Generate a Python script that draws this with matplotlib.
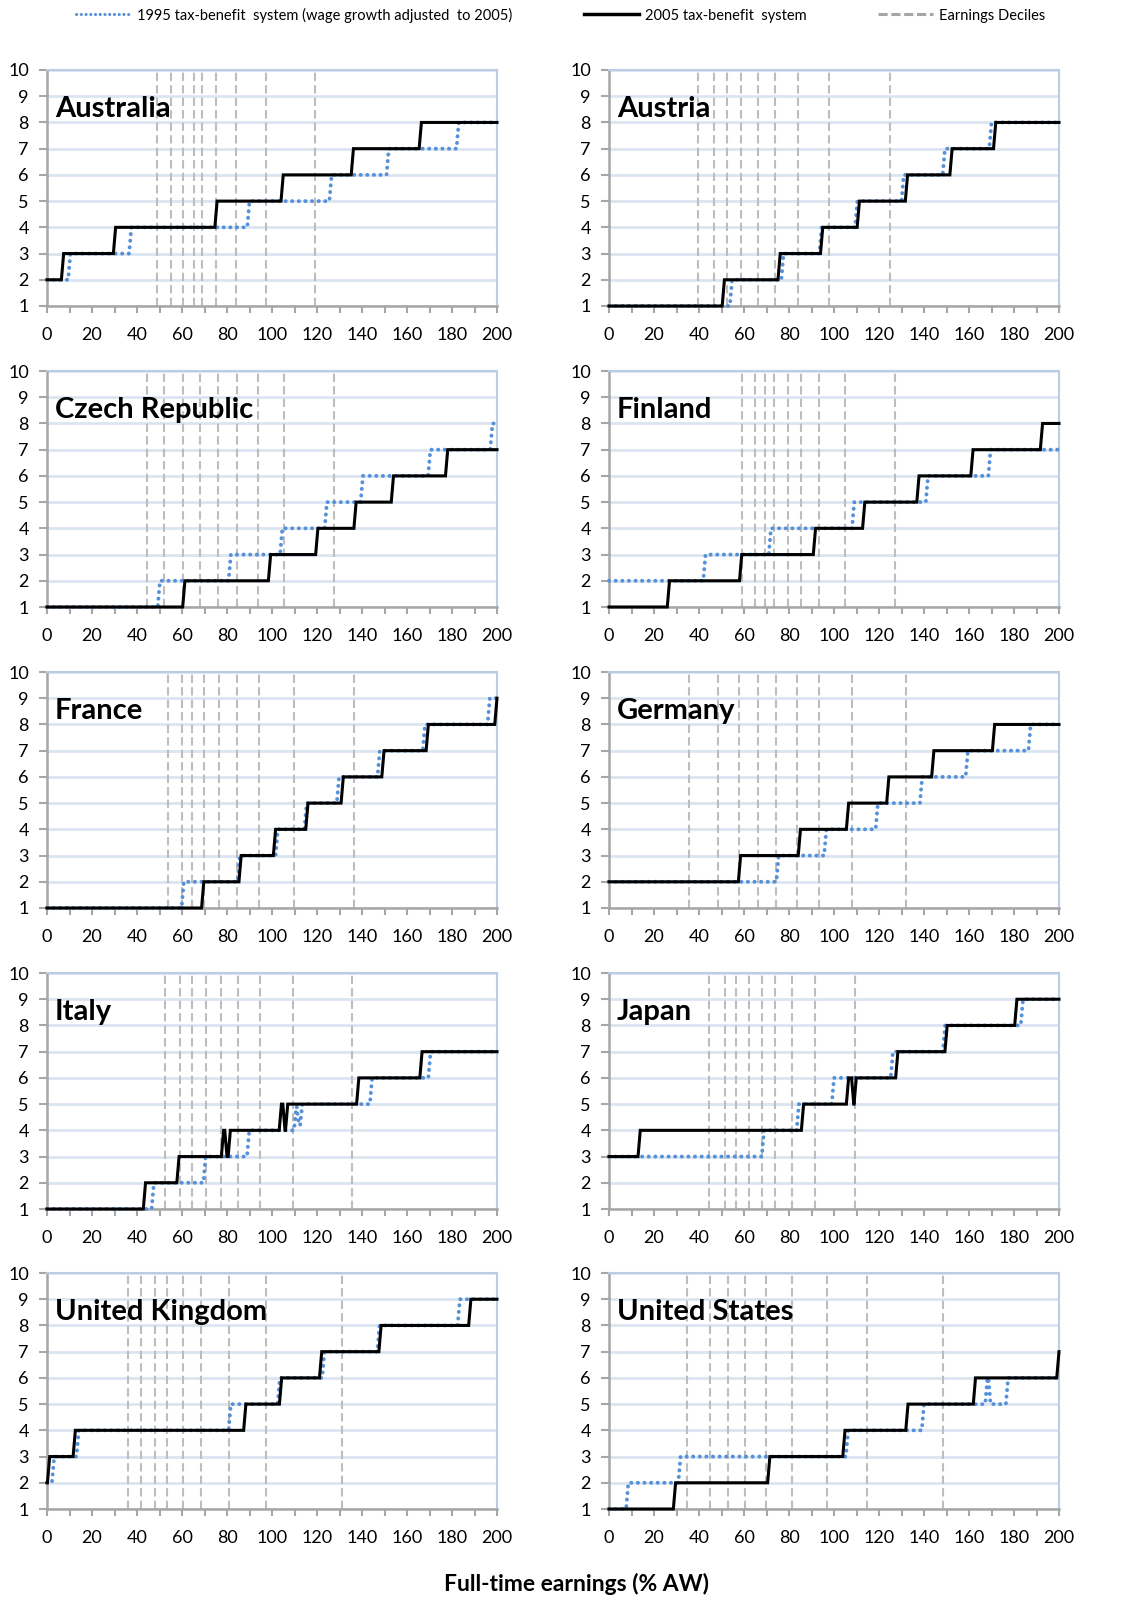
"""Small multiples: decile position by full-time earnings, 1995 vs 2005 tax-benefit systems."""

import matplotlib
matplotlib.use("Agg")
import matplotlib.pyplot as plt
from matplotlib.lines import Line2D
from matplotlib.ticker import MultipleLocator

plt.rcParams["font.family"] = ["Lato", "DejaVu Sans"]

COUNTRIES = ["Australia", "Austria", "Czech Republic", "Finland", "France",
             "Germany", "Italy", "Japan", "United Kingdom", "United States"]

# 1995 system (wage growth adjusted to 2005): earnings (% AW) where the decile changes
BREAKS_1995 = [
    [9.4, 36.5, 89.0, 125.5, 150.9, 182.0],
    [53.7, 76.6, 93.5, 109.4, 130.0, 148.3, 169.0],
    [49.2, 80.7, 103.6, 123.4, 139.4, 169.4, 197.0],
    [41.9, 71.0, 108.0, 140.8, 168.6],
    [59.8, 84.7, 101.6, 114.4, 128.8, 146.9, 167.0, 195.8],
    [74.4, 95.6, 118.5, 138.2, 158.5, 186.4],
    [46.5, 69.5, 88.9, 109.8, 111.0, 112.5, 143.5, 169.5],
    [67.9, 83.4, 99.0, 125.2, 148.4, 183.0],
    [2.2, 13.1, 80.7, 102.5, 122.3, 146.8, 182.5],
    [7.6, 30.8, 105.3, 139.0, 167.2, 168.6, 176.4],
]
# decile at 0% AW, then after each break
LEVELS_1995 = [
    [2, 3, 4, 5, 6, 7, 8],
    [1, 2, 3, 4, 5, 6, 7, 8],
    [1, 2, 3, 4, 5, 6, 7, 8],
    [2, 3, 4, 5, 6, 7],
    [1, 2, 3, 4, 5, 6, 7, 8, 9],
    [2, 3, 4, 5, 6, 7, 8],
    [1, 2, 3, 4, 4.9, 4.2, 5, 6, 7],
    [3, 4, 5, 6, 7, 8, 9],
    [2, 3, 4, 5, 6, 7, 8, 9],
    [1, 2, 3, 4, 5, 6, 5, 6],
]

# 2005 system
BREAKS_2005 = [
    [6.4, 29.5, 74.6, 104.0, 135.2, 165.4],
    [50.3, 75.1, 94.0, 110.3, 131.7, 151.5, 170.9],
    [60.3, 98.4, 119.4, 136.4, 153.0, 177.1],
    [25.9, 58.0, 90.8, 112.7, 136.8, 160.8, 191.7],
    [68.7, 85.3, 100.6, 115.0, 130.7, 148.8, 168.5, 199.0],
    [57.5, 84.1, 105.5, 123.4, 143.4, 170.4],
    [42.8, 57.7, 77.5, 79.0, 80.5, 103.2, 104.8, 106.0, 137.6, 165.7],
    [12.9, 85.5, 105.5, 107.8, 108.9, 127.4, 149.3, 180.3],
    [0.2, 11.6, 87.4, 103.3, 121.1, 147.5, 187.4],
    [28.6, 70.5, 103.9, 131.9, 161.9, 199.0],
]
LEVELS_2005 = [
    [2, 3, 4, 5, 6, 7, 8],
    [1, 2, 3, 4, 5, 6, 7, 8],
    [1, 2, 3, 4, 5, 6, 7],
    [1, 2, 3, 4, 5, 6, 7, 8],
    [1, 2, 3, 4, 5, 6, 7, 8, 9],
    [2, 3, 4, 5, 6, 7, 8],
    [1, 2, 3, 4, 3, 4, 5, 4, 5, 6, 7],
    [3, 4, 5, 6, 5, 6, 7, 8, 9],
    [2, 3, 4, 5, 6, 7, 8, 9],
    [1, 2, 3, 4, 5, 6, 7],
]

# earnings decile boundaries (% AW)
DECILES = [
    [49.1, 55.1, 60.5, 65.2, 69.1, 75.2, 84.0, 97.2, 119.3],
    [39.6, 46.7, 52.6, 58.5, 66.2, 73.9, 83.8, 97.7, 124.9],
    [44.3, 52.2, 60.3, 68.1, 76.1, 84.3, 93.6, 105.5, 127.6],
    [58.9, 64.8, 69.5, 73.5, 79.6, 85.4, 93.3, 104.7, 127.2],
    [53.6, 59.8, 64.5, 69.7, 76.4, 84.3, 94.4, 109.9, 136.5],
    [35.6, 48.4, 57.8, 66.4, 74.4, 83.7, 93.5, 108.1, 132.1],
    [52.5, 59.1, 64.6, 70.6, 77.3, 84.7, 94.8, 109.4, 135.4],
    [44.4, 51.6, 56.3, 62.2, 67.9, 73.6, 81.5, 91.6, 109.3],
    [35.8, 41.8, 48.0, 53.2, 60.6, 68.5, 80.7, 97.5, 130.9],
    [34.8, 44.9, 52.7, 60.4, 69.6, 81.5, 96.7, 114.5, 148.3],
]

BLUE = "#5590d8"
GREY = "#a6a6a6"
DASH = "#bdbdbd"
GRID = "#dbe5f1"
FRAME = "#b9cde5"


def step_line(breaks, levels, xmax=200, width=1.0):
    xs, ys = [0], [levels[0]]
    for b, prev, new in zip(breaks, levels[:-1], levels[1:]):
        xs += [b, min(b + width, xmax)]
        ys += [prev, new]
    xs.append(xmax)
    ys.append(levels[-1])
    return xs, ys


W, H = 1121, 1600
fig = plt.figure(figsize=(W / 100, H / 100), dpi=100)

col_left = [47, 609]
row_top = [70, 371, 672, 973, 1273]
ax_w, ax_h = 450, 236

for i, name in enumerate(COUNTRIES):
    row, col = divmod(i, 2)
    ax = fig.add_axes([col_left[col] / W, 1 - (row_top[row] + ax_h) / H, ax_w / W, ax_h / H])

    for d in DECILES[i]:
        ax.axvline(d, color=DASH, lw=1.5, ls=(0, (4, 2)), zorder=2)

    x95, y95 = step_line(BREAKS_1995[i], LEVELS_1995[i])
    ax.plot(x95, y95, color=BLUE, lw=2.8, ls=(0, (0.05, 1.65)),
            dash_capstyle="round", zorder=3, clip_on=False)
    x05, y05 = step_line(BREAKS_2005[i], LEVELS_2005[i])
    ax.plot(x05, y05, color="black", lw=2.2, zorder=4, clip_on=False,
            solid_joinstyle="miter")

    ax.set_xlim(0, 200)
    ax.set_ylim(1, 10)
    ax.set_xticks(range(0, 201, 20))
    ax.xaxis.set_minor_locator(MultipleLocator(10))
    ax.set_yticks(range(1, 11))
    ax.grid(axis="y", color=GRID, lw=2.0, zorder=1)
    ax.set_axisbelow(True)

    for side in ("left", "bottom"):
        ax.spines[side].set_color(GREY)
        ax.spines[side].set_linewidth(1.8)
    for side in ("top", "right"):
        ax.spines[side].set_color(FRAME)
        ax.spines[side].set_linewidth(1.5)

    ax.tick_params(axis="x", which="both", direction="out", length=5, width=1.5,
                   color=GREY, labelsize=13, pad=10)
    ax.tick_params(axis="y", direction="out", length=6, width=1.5,
                   color=GREY, labelsize=13, pad=7)

    ax.text(0.018, 0.835, name, transform=ax.transAxes, fontsize=21,
            fontweight="bold", va="center", ha="left", zorder=5)

handles = [
    Line2D([], [], color=BLUE, lw=2.2, ls=(0, (0.05, 1.5)), dash_capstyle="round"),
    Line2D([], [], color="black", lw=2.5),
    Line2D([], [], color=GREY, lw=2.2, ls=(0, (3, 1.2))),
]
labels = ["1995 tax-benefit  system (wage growth adjusted  to 2005)",
          "2005 tax-benefit  system", "Earnings Deciles"]
fig.legend(handles, labels, loc="center", bbox_to_anchor=(0.5, 1 - 15 / H),
           ncol=3, frameon=False, fontsize=10.5, handlelength=3.8,
           handletextpad=0.4, columnspacing=4.9)

fig.text(577 / W, 1 - 1584 / H, "Full-time earnings (% AW)", fontsize=16.5,
         fontweight="bold", ha="center", va="center")

fig.savefig("out.png", dpi=100)
